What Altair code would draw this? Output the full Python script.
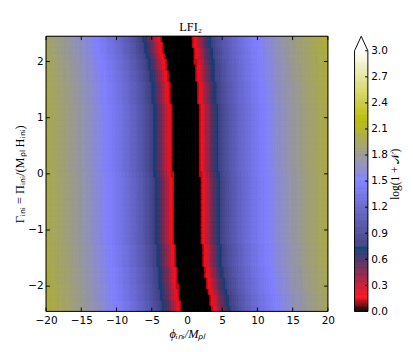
import numpy as np
import pandas as pd
import altair as alt

alt.data_transformers.disable_max_rows()

# ---------------- data ----------------
# rows of the map: Gamma_ini values (cell centres)
gamma_rows = [-2.4, -2.3, -2.2, -2.1, -2.0, -1.9, -1.8, -1.7, -1.6, -1.5,
              -1.4, -1.3, -1.2, -1.1, -1.0, -0.9, -0.8, -0.7, -0.6, -0.5,
              -0.4, -0.3, -0.2, -0.1, 0.0, 0.1, 0.2, 0.3, 0.4, 0.5,
              0.6, 0.7, 0.8, 0.9, 1.0, 1.1, 1.2, 1.3, 1.4, 1.5,
              1.6, 1.7, 1.8, 1.9, 2.0, 2.1, 2.2, 2.3, 2.4]
# centre (in phi_ini) of the black N=0 band for each row
band_centre = [1.45, 1.28, 1.12, 0.98, 0.85, 0.73, 0.62, 0.53, 0.45, 0.38,
               0.32, 0.26, 0.22, 0.17, 0.14, 0.11, 0.09, 0.07, 0.05, 0.04,
               0.03, 0.02, 0.01, 0.01, 0.00, -0.01, -0.01, -0.02, -0.03, -0.04,
               -0.05, -0.07, -0.09, -0.11, -0.14, -0.17, -0.22, -0.26, -0.32, -0.38,
               -0.45, -0.53, -0.62, -0.73, -0.85, -0.98, -1.12, -1.28, -1.45]
# half width of the black band for each row
band_half = [2.10, 2.05, 2.01, 1.97, 1.94, 1.91, 1.88, 1.86, 1.84, 1.84,
             1.84, 1.84, 1.84, 1.84, 1.84, 1.84, 1.84, 1.84, 1.84, 1.84,
             1.84, 1.84, 1.84, 1.84, 1.84, 1.84, 1.84, 1.84, 1.84, 1.84,
             1.84, 1.84, 1.84, 1.84, 1.84, 1.84, 1.84, 1.84, 1.84, 1.84,
             1.84, 1.86, 1.88, 1.91, 1.94, 1.97, 2.01, 2.05, 2.10]
ref_half = 1.84
# log(1+N) against distance from the band centre (for half width 1.84), steps of 0.25 in phi
profile_step = 0.25
profile = [0, 0, 0, 0, 0, 0, 0, 0, 0.120, 0.160,
           0.234, 0.310, 0.381, 0.446, 0.507, 0.565, 0.618, 0.669, 0.717, 0.763,
           0.806, 0.848, 0.887, 0.925, 0.962, 0.996, 1.030, 1.062, 1.094, 1.124,
           1.153, 1.181, 1.208, 1.235, 1.261, 1.285, 1.310, 1.333, 1.356, 1.379,
           1.401, 1.422, 1.443, 1.463, 1.483, 1.502, 1.521, 1.540, 1.558, 1.576,
           1.594, 1.611, 1.627, 1.644, 1.660, 1.676, 1.692, 1.707, 1.722, 1.737,
           1.751, 1.766, 1.780, 1.794, 1.807, 1.821, 1.834, 1.847, 1.860, 1.872,
           1.885, 1.897, 1.909, 1.921, 1.933, 1.945, 1.956, 1.968, 1.979, 1.990,
           2.001, 2.011, 2.022, 2.033, 2.043, 2.053, 2.063, 2.073, 2.083, 2.093,
           2.103]

x_ticks = [-20, -15, -10, -5, 0, 5, 10, 15, 20]
y_ticks = [-2, -1, 0, 1, 2]
cb_ticks = [0.0, 0.3, 0.6, 0.9, 1.2, 1.5, 1.8, 2.1, 2.4, 2.7, 3.0]

# colour map (gist_stern breakpoints)
c_dom = [0.0, 0.164, 0.7497, 0.75, 1.5, 2.205, 3.0]
c_rng = ["#000000", "#ff0e1c", "#07407f", "#404080", "#8080ff", "#bbbb00", "#ffffff"]

# ---------------- build the grid ----------------
phi_step = 0.25
phi_lo = np.arange(-20.0, 20.0, phi_step)
phi_c = phi_lo + phi_step / 2
prof = np.array(profile)
recs = []
for g, c, hw in zip(gamma_rows, band_centre, band_half):
    d = np.abs(phi_c - c) - hw + ref_half
    idx = np.clip(np.rint(d / profile_step).astype(int), 0, len(prof) - 1)
    z = prof[idx]
    for p0, zz in zip(phi_lo, z):
        recs.append((round(p0, 3), round(p0 + phi_step, 3), round(g - 0.05, 3), round(g + 0.05, 3), float(zz)))
df = pd.DataFrame(recs, columns=["x", "x2", "y", "y2", "z"])

W, H = 296, 289
CW = 14

cscale = alt.Scale(domain=c_dom, range=c_rng, interpolate="rgb", clamp=True, nice=False, zero=False)
xs = alt.Scale(domain=[-20, 20], nice=False, zero=False)
ys = alt.Scale(domain=[-2.45, 2.45], nice=False, zero=False)

serif = "Liberation Serif"

X_AX = alt.Axis(values=x_ticks, format="d", ticks=False, domain=False, grid=False, labelPadding=4,
                labelFlush=False, labelOverlap=False,
                title="ϕᵢₙᵢ/Mₚₗ", titleFont=serif, titleFontSize=13, titleFontWeight="normal",
                titleFontStyle="italic", titlePadding=2)
Y_AX = alt.Axis(values=y_ticks, format="d", ticks=False, domain=False, grid=False, labelPadding=3,
                labelOverlap=False,
                title="Γᵢₙᵢ = Πᵢₙᵢ/(Mₚₗ Hᵢₙᵢ)", titleFont=serif, titleFontSize=13,
                titleFontWeight="normal", titlePadding=2)

cells = alt.Chart(df).mark_rect(strokeWidth=1).encode(
    x=alt.X("x:Q", scale=xs, axis=X_AX),
    x2="x2:Q",
    y=alt.Y("y:Q", scale=ys, axis=Y_AX),
    y2="y2:Q",
    color=alt.Color("z:Q", scale=cscale, legend=None),
    stroke=alt.Stroke("z:Q", scale=cscale, legend=None),
)

xt = pd.DataFrame({"x": x_ticks})
yt = pd.DataFrame({"y": y_ticks})
tick_top = alt.Chart(xt).mark_rule(color="black", strokeWidth=1).encode(
    x=alt.X("x:Q", scale=xs, axis=X_AX), y=alt.value(0), y2=alt.value(4))
tick_bot = alt.Chart(xt).mark_rule(color="black", strokeWidth=1).encode(
    x=alt.X("x:Q", scale=xs, axis=X_AX), y=alt.value(H - 4), y2=alt.value(H))
tick_left = alt.Chart(yt).mark_rule(color="black", strokeWidth=1).encode(
    y=alt.Y("y:Q", scale=ys, axis=Y_AX), x=alt.value(0), x2=alt.value(4))
tick_right = alt.Chart(yt).mark_rule(color="black", strokeWidth=1).encode(
    y=alt.Y("y:Q", scale=ys, axis=Y_AX), x=alt.value(W - 4), x2=alt.value(W))
frame = alt.Chart(pd.DataFrame({"a": [0]})).mark_rect(filled=False, stroke="black", strokeWidth=1).encode(
    x=alt.value(0), x2=alt.value(W), y=alt.value(0), y2=alt.value(H))

heat = alt.layer(cells, tick_top, tick_bot, tick_left, tick_right, frame).properties(width=W, height=H)

# ---------------- colour bar ----------------
top_ext = 3.167
cb_v = np.round(np.arange(0.0, 3.0, 0.01), 2)
cbdf = pd.DataFrame({"v": cb_v, "v2": np.round(cb_v + 0.01, 2)})
cys = alt.Scale(domain=[0, top_ext], nice=False, zero=False)
cxs = alt.Scale(domain=[0, 1], nice=False, zero=False)

CB_AX = alt.Axis(values=cb_ticks, format=".1f", orient="right", ticks=False, domain=False, grid=False,
                 labelPadding=3, labelOverlap=False,
                 title="log(1 + 𝒩)", titleFont=serif, titleFontSize=12, titleFontWeight="normal",
                 titleAngle=270, titleX=28, titleY=H / 2, titleAlign="center", titleBaseline="middle")

cb_rects = alt.Chart(cbdf).mark_rect(strokeWidth=0.5).encode(
    x=alt.value(0), x2=alt.value(CW),
    y=alt.Y("v:Q", scale=cys, axis=CB_AX),
    y2="v2:Q",
    color=alt.Color("v:Q", scale=cscale, legend=None),
    stroke=alt.Stroke("v:Q", scale=cscale, legend=None),
)
tri = pd.DataFrame({"x": [0, 0.5, 1], "v": [3.0, top_ext, 3.0]})
cb_tri = alt.Chart(tri).mark_area(color="#ffffff").encode(
    x=alt.X("x:Q", scale=cxs, axis=None),
    y=alt.Y("v:Q", scale=cys, axis=CB_AX),
    y2=alt.datum(3.0),
)
outline = pd.DataFrame({"x": [0, 0, 0.5, 1, 1, 0], "v": [0, 3.0, top_ext, 3.0, 0, 0], "o": [0, 1, 2, 3, 4, 5]})
cb_out = alt.Chart(outline).mark_line(color="black", strokeWidth=1).encode(
    x=alt.X("x:Q", scale=cxs, axis=None),
    y=alt.Y("v:Q", scale=cys, axis=CB_AX),
    order="o:Q",
)
cbt = pd.DataFrame({"v": cb_ticks})
cb_tk = alt.Chart(cbt).mark_rule(color="black", strokeWidth=1).encode(
    y=alt.Y("v:Q", scale=cys, axis=CB_AX), x=alt.value(CW - 3), x2=alt.value(CW))

cbar = alt.layer(cb_rects, cb_tri, cb_out, cb_tk).properties(width=CW, height=H)

chart = alt.hconcat(heat, cbar, spacing=19).properties(
    title=alt.TitleParams("LFI₂", font=serif, fontSize=13, fontWeight="normal", anchor="middle",
                          dx=-17, offset=1, color="black"),
    background="white",
).configure_view(strokeWidth=0).configure_axis(
    labelFont="DejaVu Sans", labelFontSize=11, labelColor="black", titleColor="black"
)

chart.save("out.html", embed_options={"renderer": "svg", "actions": False})
